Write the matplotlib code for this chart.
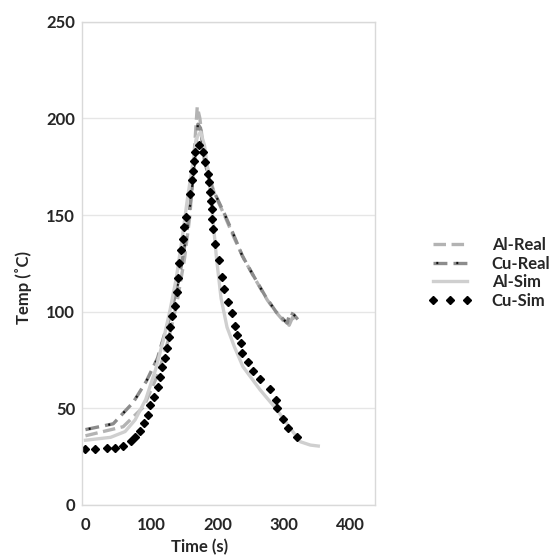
"""Temperature vs time, real vs simulated (Al / Cu)."""
import matplotlib
matplotlib.use("Agg")
import matplotlib.pyplot as plt
from matplotlib.legend_handler import HandlerTuple

plt.rcParams["font.family"] = ["Lato", "DejaVu Sans"]
plt.rcParams["lines.scale_dashes"] = False

# --- data ---
al_real_t = [0, 57, 88, 110, 125, 138, 150, 158, 164, 169, 173, 178, 186, 195, 210, 225,
             240, 258, 275, 290, 300, 308, 313, 318]
al_real_T = [35.8, 40.5, 50.8, 68, 85, 104, 128, 150, 180, 206, 200, 185, 172, 161, 150, 138,
             127, 116, 106, 99, 95, 93, 97, 96]

cu_real_t = [0, 42, 72, 92, 109, 118, 130, 142, 152, 160, 166, 170, 174, 180, 190, 200, 211,
             225, 237, 255, 272, 288, 298, 305, 309, 315, 321]
cu_real_T = [39, 42, 53, 64, 76, 86.6, 100, 118, 138, 160, 182, 197, 195, 178, 165, 158, 150,
             139, 129, 118, 108, 100, 96.5, 94, 99.5, 98.5, 96]

al_sim_t = [0, 38, 60, 75, 91, 106, 118, 128, 137, 146, 154, 162, 168, 174, 180, 185, 190,
            194, 198, 205, 214, 225, 238, 264, 290, 309, 325, 340, 352]
al_sim_T = [33.5, 35, 38, 44, 54.5, 70, 85.6, 101, 116.7, 137.4, 158, 176, 190, 193, 186, 173,
            158, 143, 128, 107, 92, 82, 71.6, 59.6, 49, 40, 32.7, 31, 30.5]

cu_sim_t = [0, 15, 32, 45, 57, 69, 75, 83, 88, 94, 98, 103, 109, 113,
            116, 121, 124, 127, 128, 131, 136, 139, 140, 142, 144, 148, 149, 152, 158, 161,
            162, 164, 166, 171,
            178, 181, 186, 187, 189, 190, 191, 192, 193, 196, 202, 206, 210, 216, 222, 226,
            229, 235, 237, 245, 254, 264, 279, 288, 290, 299, 306, 320]
cu_sim_T = [29.0, 29.0, 29.6, 29.6, 30.6, 33.2, 35.3, 38.4, 42.5, 46.7, 51.9, 56.0, 61.2, 66.4,
            71.6, 76.2, 81.4, 87.1, 92.3, 98.0, 103.2, 110.0, 117.2, 125.0, 131.7, 137.4, 143.7,
            148.9, 160.8, 168.0, 172.7, 177.9, 182.6, 186.2,
            182.6, 177.4, 171.2, 167.0, 161.8, 157.1, 153.0, 147.8, 142.6, 134.9, 126.6, 117.7,
            111.5, 104.8, 99.1, 92.8, 88.2, 84.0, 78.8, 74.2, 69.5, 65.4, 60.2, 54.5, 50.3,
            44.6, 39.9, 35.3]

y_ticks = [0, 50, 100, 150, 200, 250]
x_ticks = [0, 100, 200, 300, 400]

TEXT_COLOR = "#262626"
FONT_SIZE = 12

fig = plt.figure(figsize=(5.55, 5.58), dpi=100)
ax = fig.add_axes([0.148, 0.095, 0.528, 0.866])

l_al_real, = ax.plot(al_real_t, al_real_T, color="#b3b3b3", lw=2.4,
                     linestyle=(0, (9, 4)), label="Al-Real")
l_cu_real, = ax.plot(cu_real_t, cu_real_T, color="#8c8c8c", lw=2.4,
                     linestyle=(0, (10, 4.4)))
l_cu_dot, = ax.plot(cu_real_t, cu_real_T, color="#111111", lw=1.6,
                    linestyle=(12.0, (1.4, 13.0)))
l_al_sim, = ax.plot(al_sim_t, al_sim_T, color="#cfcfcf", lw=2.4, label="Al-Sim")
l_cu_sim, = ax.plot(cu_sim_t, cu_sim_T, linestyle="none", marker="D", markersize=3.8,
                    color="black", label="Cu-Sim")

ax.set_xlim(-5, 438)
ax.set_ylim(0, 250)
ax.set_xticks(x_ticks)
ax.set_yticks(y_ticks)
ax.grid(axis="y", color="#e6e6e6", lw=1)
ax.set_axisbelow(True)
for sp in ax.spines.values():
    sp.set_color("#d9d9d9")
    sp.set_linewidth(1)
ax.tick_params(length=0, labelsize=FONT_SIZE, colors=TEXT_COLOR)
ax.tick_params(axis="y", pad=5)
ax.tick_params(axis="x", pad=9)
for lab in ax.get_xticklabels() + ax.get_yticklabels():
    lab.set_fontweight("bold")

ax.set_xlabel("Time (s)", fontsize=FONT_SIZE, fontweight="bold", color=TEXT_COLOR)
ax.xaxis.set_label_coords(0.40, -0.07)
ax.set_ylabel("Temp (˚C)", fontsize=FONT_SIZE, fontweight="bold", color=TEXT_COLOR)
ax.yaxis.set_label_coords(-0.17, 0.45)

leg = fig.legend([l_al_real, (l_cu_real, l_cu_dot), l_al_sim, l_cu_sim],
                 ["Al-Real", "Cu-Real", "Al-Sim", "Cu-Sim"],
                 handler_map={tuple: HandlerTuple(ndivide=1)},
                 loc="upper left", bbox_to_anchor=(0.745, 0.602), frameon=False,
                 numpoints=3, handlelength=2.6, handletextpad=1.2, labelspacing=0.15,
                 prop={"size": FONT_SIZE, "weight": "bold"})
for t in leg.get_texts():
    t.set_color(TEXT_COLOR)

fig.savefig("out.png", dpi=100, facecolor="white")
